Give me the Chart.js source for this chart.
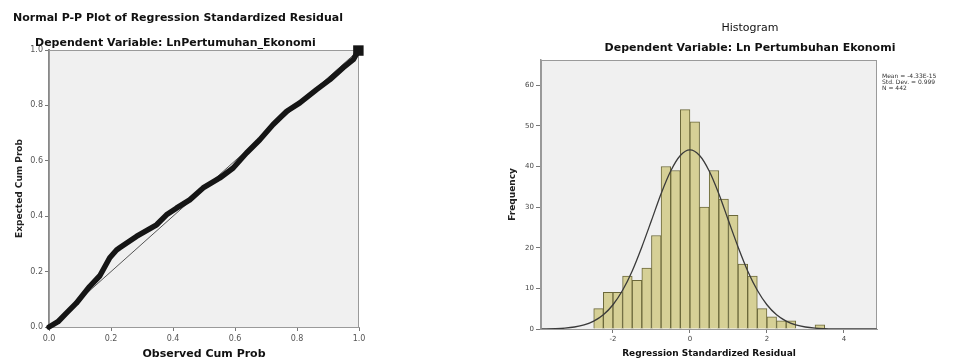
<!DOCTYPE html>
<html><head><meta charset="utf-8">
<script src="https://cdn.jsdelivr.net/npm/chart.js@4.4.1/dist/chart.umd.min.js"></script>
<style>
body{margin:0;background:#fff;width:954px;height:361px;overflow:hidden;position:relative;font-family:"DejaVu Sans",sans-serif;}
.t{position:absolute;white-space:nowrap;color:#111;line-height:13px;}
.c{transform:translateX(-50%);}
#c1{position:absolute;left:0;top:0;}
#c2{position:absolute;left:480px;top:0;}
#stats{position:absolute;left:882px;top:73px;font-size:6px;line-height:6px;color:#333;white-space:nowrap;}
</style></head><body>
<canvas id="c1" width="480" height="361"></canvas>
<canvas id="c2" width="474" height="361"></canvas>
<div class="t" style="left:13px;top:11px;font-weight:bold;font-size:11px;">Normal P-P Plot of Regression Standardized Residual</div>
<div class="t" style="left:35px;top:36px;font-weight:bold;font-size:11px;">Dependent Variable: LnPertumuhan_Ekonomi</div>
<div class="t c" style="left:750px;top:21px;font-size:11px;">Histogram</div>
<div class="t c" style="left:750px;top:41px;font-weight:bold;font-size:11px;">Dependent Variable: Ln Pertumbuhan Ekonomi</div>
<div id="stats">Mean = -4.33E-15<br>Std. Dev. = 0.999<br>N = 442</div>
<script>
// ---- P-P plot data ----
const ppObserved = [0.000,0.029,0.056,0.088,0.131,0.164,0.196,0.218,0.228,0.282,0.347,0.379,0.411,0.454,0.497,0.551,0.594,0.637,0.680,0.723,0.767,0.809,0.863,0.906,0.949,0.982,0.998];
const ppExpected = [0.000,0.019,0.050,0.086,0.146,0.185,0.250,0.278,0.286,0.327,0.369,0.405,0.429,0.459,0.502,0.538,0.574,0.628,0.676,0.731,0.779,0.809,0.857,0.893,0.936,0.966,0.998];
const refLineX = [0, 1];
const refLineY = [0, 1];
const ppTicks = [0, 0.2, 0.4, 0.6, 0.8, 1.0];

// ---- Histogram data ----
const binStart = [-2.5,-2.25,-2.0,-1.75,-1.5,-1.25,-1.0,-0.75,-0.5,-0.25,0,0.25,0.5,0.75,1.0,1.25,1.5,1.75,2.0,2.25,2.5,3.25];
const binCount = [5,9,9,13,12,15,23,40,39,54,51,30,39,32,28,16,13,5,3,2,2,1];
const binWidth = 0.25;
const curveX = [-3.85,-3.5,-3.25,-3,-2.75,-2.5,-2.25,-2,-1.75,-1.5,-1.25,-1,-0.75,-0.5,-0.25,0,0.25,0.5,0.75,1,1.25,1.5,1.75,2,2.25,2.5,2.75,3,3.25,3.5,3.75,4,4.5,4.85];
const curveY = [0.03,0.1,0.22,0.49,1.0,1.94,3.5,5.97,9.54,14.3,20.2,26.7,33.3,38.9,42.7,44.1,42.7,38.9,33.3,26.7,20.2,14.3,9.54,5.97,3.5,1.94,1.0,0.49,0.22,0.1,0.04,0.015,0.0,0.0];
const histXTicks = [-2, 0, 2, 4];
const histYTicks = [0, 10, 20, 30, 40, 50, 60];

Chart.defaults.font.family = '"DejaVu Sans", sans-serif';

const frame = {
  id: 'frame',
  beforeDraw(chart) {
    const {ctx, chartArea: a} = chart;
    ctx.save();
    ctx.fillStyle = '#f0f0f0';
    ctx.fillRect(a.left, a.top, a.right - a.left, a.bottom - a.top);
    ctx.restore();
  },
  beforeDatasetsDraw(chart) {
    const {ctx, chartArea: a} = chart;
    ctx.save();
    ctx.strokeStyle = '#9a9a9a';
    ctx.lineWidth = 1;
    ctx.strokeRect(a.left + 0.5, a.top + 0.5, a.right - a.left - 1, a.bottom - a.top);
    ctx.restore();
  }
};

const lastPP = ppObserved.length - 1;

new Chart(document.getElementById('c1'), {
  type: 'scatter',
  data: {
    datasets: [
      {
        type: 'line',
        data: ppObserved.map((x, i) => ({x, y: ppExpected[i]})),
        borderColor: '#151515', borderWidth: 5.5,
        borderJoinStyle: 'round', borderCapStyle: 'round',
        pointRadius: c => c.dataIndex === lastPP ? 3.5 : 0,
        pointStyle: 'rect',
        pointBackgroundColor: '#151515', pointBorderColor: '#151515',
        tension: 0, fill: false, order: 0, clip: 6
      },
      {
        type: 'line',
        data: refLineX.map((x, i) => ({x, y: refLineY[i]})),
        borderColor: '#555', borderWidth: 1, pointRadius: 0, fill: false, order: 1
      }
    ]
  },
  options: {
    responsive: false, animation: false,
    layout: {padding: {left: 14, right: 121, top: 50, bottom: 0}},
    plugins: {legend: {display: false}, tooltip: {enabled: false}},
    scales: {
      x: {
        type: 'linear', min: 0, max: 1,
        afterBuildTicks: a => { a.ticks = ppTicks.map(v => ({value: v})); },
        afterFit: a => { a.height = 34; },
        ticks: {callback: v => Number(v).toFixed(1), font: {size: 8}, color: '#555', padding: 3, maxRotation: 0},
        grid: {drawOnChartArea: false, drawTicks: true, tickLength: 4, color: '#777'},
        border: {color: '#999', width: 1},
        title: {display: true, text: 'Observed Cum Prob', font: {size: 11, weight: 'bold'}, color: '#111', padding: 0}
      },
      y: {
        type: 'linear', min: 0, max: 1,
        afterBuildTicks: a => { a.ticks = ppTicks.map(v => ({value: v})); },
        afterFit: a => { a.width = 35; },
        ticks: {callback: v => Number(v).toFixed(1), font: {size: 8}, color: '#555', padding: 2},
        grid: {drawOnChartArea: false, drawTicks: true, tickLength: 4, color: '#777'},
        border: {color: '#888', width: 2},
        title: {display: true, text: 'Expected Cum Prob', font: {size: 9, weight: 'bold'}, color: '#222', padding: 0}
      }
    }
  },
  plugins: [frame]
});

new Chart(document.getElementById('c2'), {
  type: 'bar',
  data: {
    datasets: [
      {
        type: 'line',
        data: curveX.map((x, i) => ({x, y: curveY[i]})),
        borderColor: '#3a3a3a', borderWidth: 1.3, pointRadius: 0,
        cubicInterpolationMode: 'monotone', fill: false, order: 0
      },
      {
        type: 'bar',
        data: binStart.map((s, i) => ({x: s + binWidth / 2, y: binCount[i]})),
        backgroundColor: '#d6d096', borderColor: '#6b683a', borderWidth: 1,
        barPercentage: 1, categoryPercentage: 1, order: 1
      }
    ]
  },
  options: {
    responsive: false, animation: false,
    layout: {padding: {left: 27, right: 77, top: 60, bottom: 2}},
    plugins: {legend: {display: false}, tooltip: {enabled: false}},
    scales: {
      x: {
        type: 'linear', min: -3.87, max: 4.86, offset: false,
        afterBuildTicks: a => { a.ticks = histXTicks.map(v => ({value: v})); },
        afterFit: a => { a.height = 30; },
        ticks: {font: {size: 7}, color: '#444', padding: 2, maxRotation: 0},
        grid: {drawOnChartArea: false, drawTicks: true, tickLength: 4, color: '#777', offset: false},
        border: {color: '#999', width: 1},
        title: {display: true, text: 'Regression Standardized Residual', font: {size: 9, weight: 'bold'}, color: '#111', padding: 0}
      },
      y: {
        type: 'linear', min: 0, max: 66.2,
        afterBuildTicks: a => { a.ticks = histYTicks.map(v => ({value: v})); },
        afterFit: a => { a.width = 34; },
        ticks: {font: {size: 7}, color: '#444', padding: 2},
        grid: {drawOnChartArea: false, drawTicks: true, tickLength: 5, color: '#777'},
        border: {color: '#999', width: 1.5},
        title: {display: true, text: 'Frequency', font: {size: 9, weight: 'bold'}, color: '#222', padding: 0}
      }
    }
  },
  plugins: [frame]
});
</script>
</body></html>
